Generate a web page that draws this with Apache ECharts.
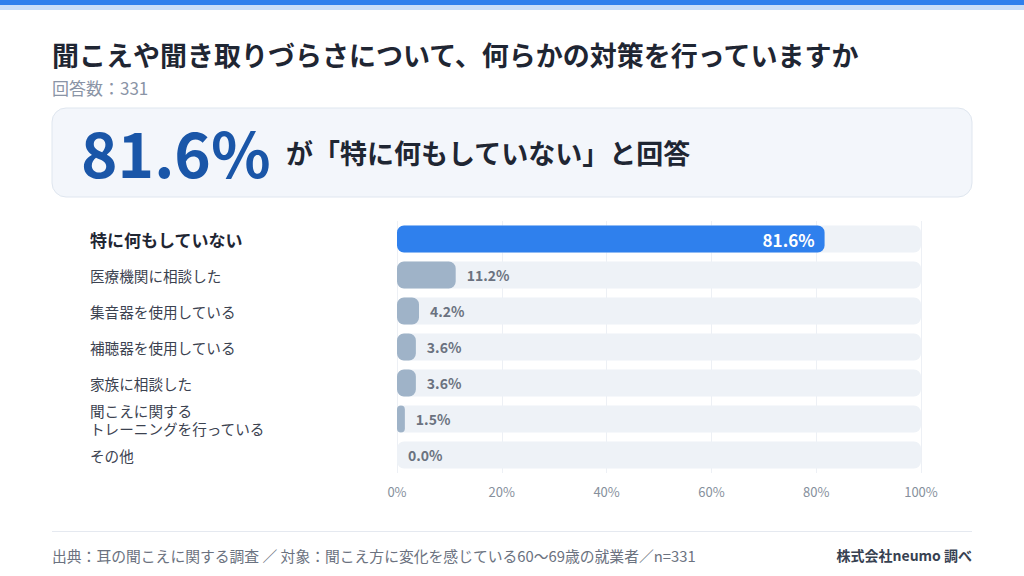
<!DOCTYPE html>
<html><head><meta charset="utf-8">
<script src="https://cdn.jsdelivr.net/npm/echarts@6/dist/echarts.min.js"></script>
<style>html,body{margin:0;padding:0;background:#fff}#c{width:1024px;height:576px}</style>
</head><body><div id="c"></div>
<script>
const categories = ['特に何もしていない','医療機関に相談した','集音器を使用している','補聴器を使用している','家族に相談した','聞こえに関する\nトレーニングを行っている','その他'];
const values = [81.6, 11.2, 4.2, 3.6, 3.6, 1.5, 0.0];
const titleText = '聞こえや聞き取りづらさについて、何らかの対策を行っていますか';
const subtitleText = '回答数：331';
const highlightValue = '81.6%';
const highlightText = 'が「特に何もしていない」と回答';
const footerLeft = '出典：耳の聞こえに関する調査 ／ 対象：聞こえ方に変化を感じている60〜69歳の就業者／n=331';
const footerRight = '株式会社neumo 調べ';

const FONT = '"Noto Sans CJK JP","Noto Sans",sans-serif';
const chart = echarts.init(document.getElementById('c'), null, {renderer:'svg'});

const data = values.map((v,i)=>({
  value: v,
  itemStyle: {color: i===0 ? '#2f80ed' : '#9fb3c8', borderRadius: 7},
  label: i===0 ? {position:'insideRight', distance:10, color:'#ffffff', fontSize:17, fontWeight:'bold'}
               : {position:'right', distance:11, color:'#6b7280', fontSize:14, fontWeight:'bold'}
}));

chart.setOption({
  animation:false,
  textStyle:{fontFamily:FONT},
  grid:{left:397, right:103, top:221, bottom:103, containLabel:false},
  xAxis:{type:'value', min:0, max:100, interval:20,
    axisLine:{show:false}, axisTick:{show:false},
    splitLine:{show:true, lineStyle:{color:'#edf0f5', width:1}},
    axisLabel:{formatter:'{value}%', color:'#868f9c', fontSize:13, margin:12, fontFamily:FONT}},
  yAxis:{type:'category', data:categories, inverse:true,
    axisLine:{show:false}, axisTick:{show:false},
    axisLabel:{align:'left', margin:307, color:'#3b4250', fontSize:14.6, lineHeight:18, fontFamily:FONT,
      formatter:(v,i)=> i===0 ? '{b|'+v+'}' : v,
      rich:{b:{fontSize:17, fontWeight:'bold', color:'#1f2633', fontFamily:FONT}}}},
  series:[{type:'bar', data:data, barWidth:27,
    showBackground:true, backgroundStyle:{color:'#eef2f7', borderRadius:7},
    label:{show:true, fontFamily:FONT, formatter:p=>p.value.toFixed(1)+'%'}}],
  graphic:[
    {type:'rect', shape:{x:0,y:0,width:1024,height:5}, style:{fill:'#2f80ed'}},
    {type:'rect', shape:{x:0,y:5,width:1024,height:5}, style:{fill:'#c9def8'}},
    {type:'text', left:52, top:41, style:{text:titleText, font:'bold 27px '+FONT, fill:'#1f2633'}},
    {type:'text', left:52, top:79, style:{text:subtitleText, font:'17px '+FONT, fill:'#8a94a6'}},
    {type:'rect', shape:{x:52,y:108,width:920,height:89,r:14}, style:{fill:'#f3f6fb', stroke:'#dfe6ef', lineWidth:1}},
    {type:'text', left:81, top:120, style:{text:highlightValue, font:'bold 62px '+FONT, fill:'#1a56a8'}},
    {type:'text', left:286, top:139, style:{text:highlightText, font:'bold 27px '+FONT, fill:'#1f2633'}},
    {type:'rect', shape:{x:52,y:531,width:920,height:1}, style:{fill:'#e5e9f0'}},
    {type:'text', left:52, top:548, style:{text:footerLeft, font:'14.8px '+FONT, fill:'#6b7280'}},
    {type:'text', right:52, top:548, style:{text:footerRight, font:'bold 14px '+FONT, fill:'#374151'}}
  ]
});
</script></body></html>
